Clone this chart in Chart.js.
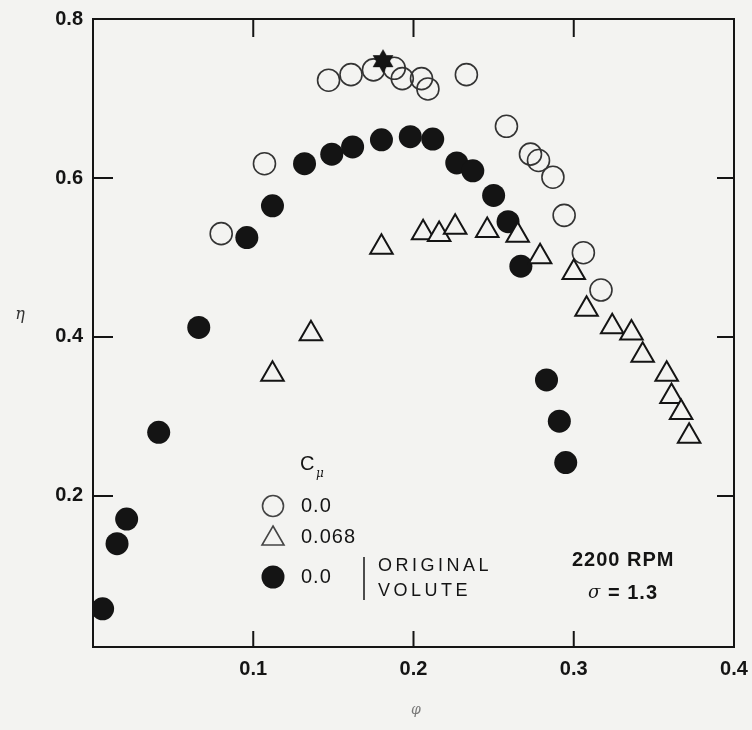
<!DOCTYPE html>
<html>
<head>
<meta charset="utf-8">
<script src="https://cdn.jsdelivr.net/npm/chart.js@4.4.0/dist/chart.umd.min.js"></script>
<style>
body{margin:0;background:#f3f3f1;}
#wrap{width:752px;height:730px;position:relative;}
</style>
</head>
<body>
<div id="wrap"><canvas id="effChart"></canvas></div>
<script>
// flow coefficient (phi) vs efficiency (eta)
var openPhi = [0.080,0.107,0.147,0.161,0.175,0.188,0.193,0.205,0.209,0.233,0.258,0.273,0.278,0.287,0.294,0.306,0.317];
var openEta = [0.530,0.618,0.723,0.730,0.736,0.738,0.725,0.725,0.712,0.730,0.665,0.630,0.622,0.601,0.553,0.506,0.459];

var triPhi = [0.112,0.136,0.180,0.206,0.216,0.226,0.246,0.265,0.279,0.300,0.308,0.324,0.336,0.343,0.358,0.361,0.367,0.372];
var triEta = [0.353,0.404,0.513,0.531,0.529,0.538,0.534,0.528,0.501,0.481,0.435,0.413,0.405,0.377,0.353,0.325,0.305,0.275];

var filledPhi = [0.006,0.015,0.021,0.041,0.066,0.096,0.112,0.132,0.149,0.162,0.180,0.198,0.212,0.227,0.237,0.250,0.259,0.267,0.283,0.291,0.295];
var filledEta = [0.058,0.140,0.171,0.280,0.412,0.525,0.565,0.618,0.630,0.639,0.648,0.652,0.649,0.619,0.609,0.578,0.545,0.489,0.346,0.294,0.242];

var starPhi = [0.181];
var starEta = [0.747];

var xTicks = [0.1,0.2,0.3,0.4];
var yTicks = [0.2,0.4,0.6,0.8];

var legendLabels = ["0.0","0.068","0.0"];

var INK = "#141414";
var BG = "#f3f3f1";

function pairs(xs,ys){
	var out = [];
	for(var i=0;i<xs.length;i++){
		out.push({x:xs[i],y:ys[i]});
	}
	return out;
}

// filled six point star (two triangles) for the design point
function makeStar(size){
	var c = document.createElement("canvas");
	c.width = size; c.height = size;
	var g = c.getContext("2d");
	var cx = size/2, cy = size/2, r = size/2 - 1;
	g.fillStyle = INK;
	var starts = [-Math.PI/2, Math.PI/2];
	for(var k=0;k<2;k++){
		g.beginPath();
		for(var j=0;j<3;j++){
			var a = starts[k] + j*2*Math.PI/3;
			var px = cx + r*Math.cos(a), py = cy + r*Math.sin(a);
			if(j==0) g.moveTo(px,py); else g.lineTo(px,py);
		}
		g.closePath();
		g.fill();
	}
	return c;
}

var framePlugin = {
	id: "frame",
	afterDraw: function(chart){
		var ctx = chart.ctx;
		var xs = chart.scales.x, ys = chart.scales.y;
		var a = chart.chartArea;
		ctx.save();
		ctx.strokeStyle = INK;
		ctx.lineWidth = 2;
		// top and right sides of the box
		ctx.beginPath();
		ctx.moveTo(a.left, a.top);
		ctx.lineTo(a.right, a.top);
		ctx.lineTo(a.right, a.bottom);
		ctx.stroke();
		// inward ticks
		ctx.beginPath();
		for(var i=0;i<xTicks.length;i++){
			if(xTicks[i]>=0.4) continue;
			var px = xs.getPixelForValue(xTicks[i]);
			ctx.moveTo(px, a.bottom); ctx.lineTo(px, a.bottom-16);
			ctx.moveTo(px, a.top); ctx.lineTo(px, a.top+18);
		}
		for(var i=0;i<yTicks.length;i++){
			if(yTicks[i]>=0.8) continue;
			var py = ys.getPixelForValue(yTicks[i]);
			ctx.moveTo(a.left, py); ctx.lineTo(a.left+20, py);
			ctx.moveTo(a.right, py); ctx.lineTo(a.right-17, py);
		}
		ctx.stroke();

		// axis symbols
		ctx.fillStyle = "#333";
		ctx.textAlign = "center";
		ctx.textBaseline = "middle";
		ctx.font = "italic 16px 'DejaVu Serif'";
		ctx.fillText("\u03b7", 20, 315);
		ctx.fillStyle = "#777";
		ctx.font = "italic 14px 'DejaVu Serif'";
		ctx.fillText("\u03c6", 416, 710);

		// legend
		ctx.fillStyle = INK;
		ctx.textAlign = "left";
		ctx.font = "20px 'Liberation Sans'";
		ctx.fillText("C", 300, 464);
		ctx.font = "italic 12px 'DejaVu Serif'";
		ctx.fillText("\u03bc", 316, 474);

		var ly = [506,537,577];
		ctx.lineWidth = 1.6;
		ctx.strokeStyle = "#444";
		ctx.beginPath(); ctx.arc(273, ly[0], 10.5, 0, Math.PI*2); ctx.stroke();
		ctx.beginPath();
		ctx.moveTo(273, ly[1]-11); ctx.lineTo(284, ly[1]+8); ctx.lineTo(262, ly[1]+8); ctx.closePath();
		ctx.stroke();
		ctx.fillStyle = INK;
		ctx.beginPath(); ctx.arc(273, ly[2], 11.5, 0, Math.PI*2); ctx.fill();

		ctx.font = "20px 'Liberation Sans'";
		ctx.letterSpacing = "1px";
		for(var i=0;i<legendLabels.length;i++){
			ctx.fillText(legendLabels[i], 301, ly[i]);
		}
		// bracket
		ctx.strokeStyle = INK;
		ctx.lineWidth = 1.5;
		ctx.beginPath(); ctx.moveTo(364, 557); ctx.lineTo(364, 600); ctx.stroke();
		ctx.font = "18px 'Liberation Sans'";
		ctx.letterSpacing = "3.5px";
		ctx.fillText("ORIGINAL", 378, 566);
		ctx.fillText("VOLUTE", 378, 591);

		// run conditions
		ctx.letterSpacing = "1px";
		ctx.font = "bold 20px 'Liberation Sans'";
		ctx.fillText("2200 RPM", 572, 560);
		ctx.font = "italic 18px 'DejaVu Serif'";
		ctx.fillText("\u03c3", 588, 593);
		ctx.font = "bold 20px 'Liberation Sans'";
		ctx.fillText("= 1.3", 608, 593);
		ctx.letterSpacing = "0px";
		ctx.restore();
	}
};

var ctx = document.getElementById("effChart").getContext("2d");
var effChart = new Chart(ctx, {
	type: "scatter",
	data: {
		datasets: [
			{
				label: "design point",
				data: pairs(starPhi, starEta),
				pointStyle: makeStar(26),
				pointRadius: 13
			},
			{
				label: "0.068",
				data: pairs(triPhi, triEta),
				pointStyle: "triangle",
				pointRadius: 13,
				backgroundColor: BG,
				borderColor: INK,
				borderWidth: 2
			},
			{
				label: "0.0",
				data: pairs(openPhi, openEta),
				pointStyle: "circle",
				pointRadius: 11,
				backgroundColor: "rgba(0,0,0,0)",
				borderColor: "#333",
				borderWidth: 1.6
			},
			{
				label: "0.0 original volute",
				data: pairs(filledPhi, filledEta),
				pointStyle: "circle",
				pointRadius: 11.5,
				backgroundColor: INK,
				borderColor: INK,
				borderWidth: 0
			}
		]
	},
	options: {
		responsive: true,
		maintainAspectRatio: false,
		animation: false,
		layout: {padding: {left: 0, top: 19, right: 18, bottom: 0}},
		plugins: {legend: {display: false}, tooltip: {enabled: false}},
		scales: {
			x: {
				type: "linear",
				min: 0,
				max: 0.4,
				grid: {display: false, drawTicks: false},
				border: {display: true, color: INK, width: 2},
				afterBuildTicks: function(scale){
					scale.ticks = xTicks.map(function(v){ return {value: v}; });
				},
				afterFit: function(scale){
					scale.height = 83;
					scale.paddingLeft = 0;
					scale.paddingRight = 0;
				},
				ticks: {
					padding: 10,
					color: INK,
					font: {family: "'Liberation Sans'", size: 20, weight: "bold"},
					callback: function(v){ return v.toFixed(1); }
				}
			},
			y: {
				type: "linear",
				min: 0.01,
				max: 0.8,
				grid: {display: false, drawTicks: false},
				border: {display: true, color: INK, width: 2},
				afterBuildTicks: function(scale){
					scale.ticks = yTicks.map(function(v){ return {value: v}; });
				},
				afterFit: function(scale){
					scale.width = 93;
					scale.paddingTop = 0;
					scale.paddingBottom = 0;
				},
				ticks: {
					padding: 10,
					color: INK,
					font: {family: "'Liberation Sans'", size: 20, weight: "bold"},
					callback: function(v){ return v.toFixed(1); }
				}
			}
		}
	},
	plugins: [framePlugin]
});
</script>
</body>
</html>
